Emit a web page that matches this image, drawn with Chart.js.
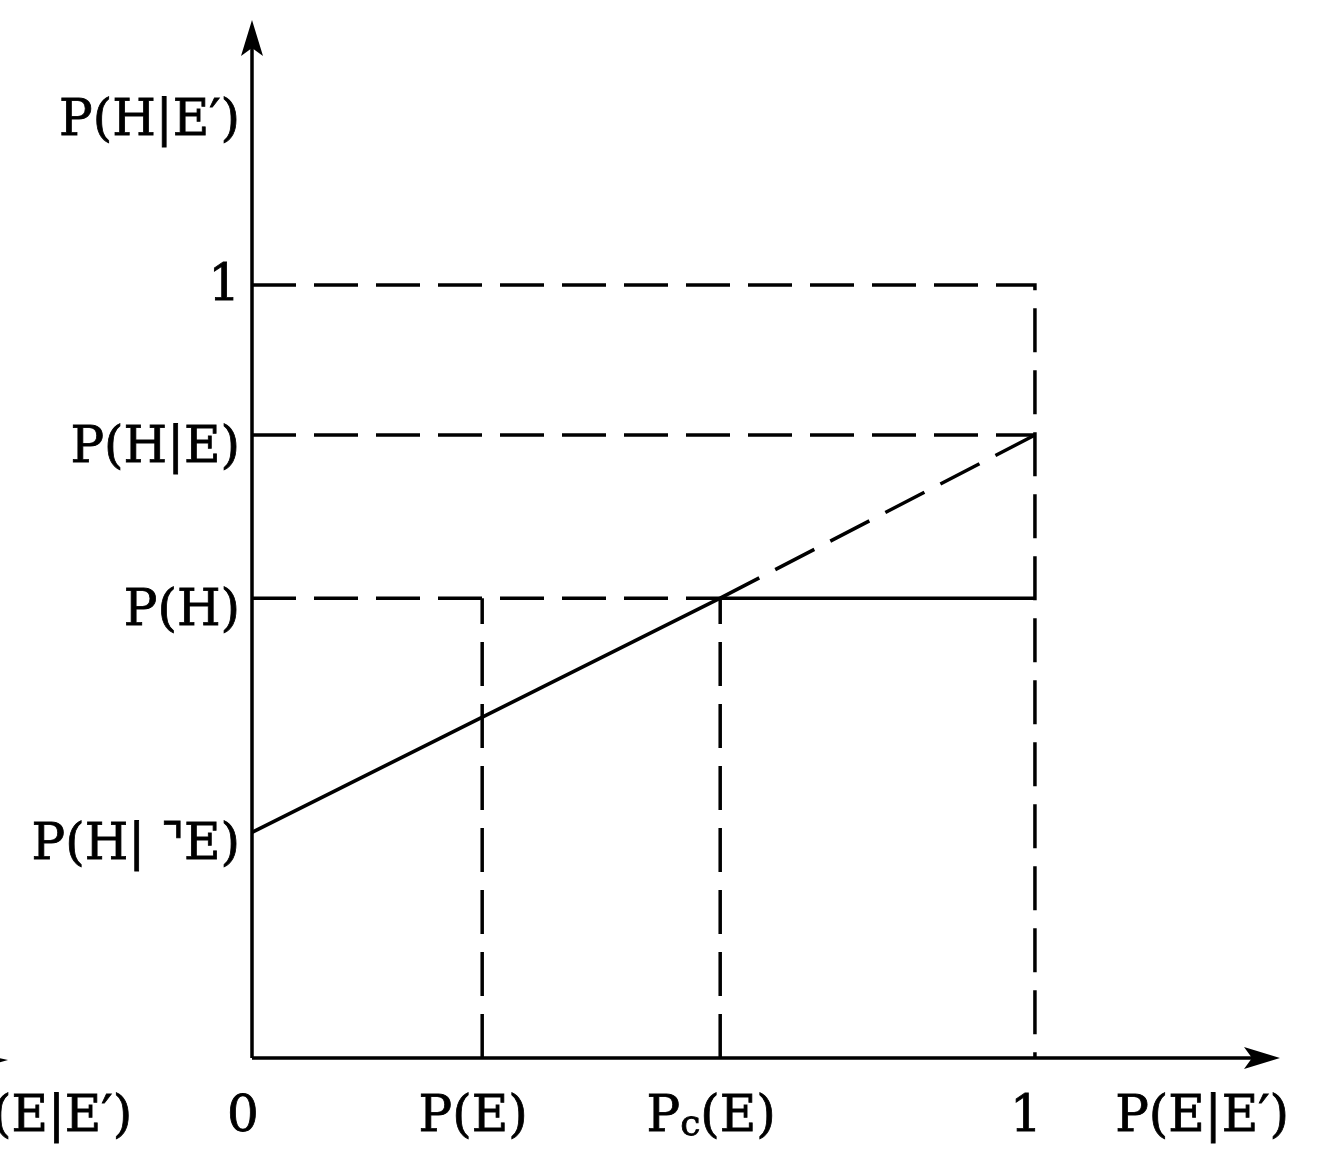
<!DOCTYPE html>
<html>
<head>
<meta charset="utf-8">
<script src="https://cdn.jsdelivr.net/npm/chart.js@4/dist/chart.umd.min.js"></script>
<style>
  html, body { margin: 0; padding: 0; background: #fff; }
  canvas { display: block; }
</style>
</head>
<body>
<canvas id="diagram" width="1340" height="1157"></canvas>
<script>
// Probability values (axis units 0..1)
const PE = 0.294;      // P(E)
const PcE = 0.598;     // Pc(E)
const PH = 0.595;      // P(H)
const PHE = 0.806;     // P(H|E)
const PHnotE = 0.292;  // P(H|¬E)

const xTickValues = [0, PE, PcE, 1, 1.225];
const xTickLabels = ["0", "P(E)", "P_c(E)", "1", "P(E|E\u2032)"];
const yTickValues = [1.203, 1, PHE, PH, PHnotE];
const yTickLabels = ["P(H|E\u2032)", "1", "P(H|E)", "P(H)", "P(H| \u231DE)"];

// solid lines
const solidSegments = [
  [[0, PHnotE], [PcE, PH]],
  [[PcE, PH], [1, PH]],
];
// dashed lines
const dashedSegments = [
  [[0, 1], [1, 1], [1, 0]],
  [[0, PHE], [1, PHE]],
  [[0, PH], [PcE, PH]],
  [[PE, 0], [PE, PH]],
  [[PcE, 0], [PcE, PH]],
  [[PcE, PH], [1, PHE]],
];

const xMax = 1.313;
const yMax = 1.343;
const FONT = "'DejaVu Serif', 'Liberation Serif', serif";

function seg(points, dashed) {
  return {
    data: points.map(([x, y]) => ({ x, y })),
    showLine: true,
    borderColor: "#000",
    borderWidth: 3.5,
    borderDash: dashed ? [44, 18] : [],
    pointRadius: 0,
    fill: false,
  };
}

// draws text, "_c" renders c as a subscript
function drawRich(ctx, text, x, y, align) {
  const parts = [];
  for (let i = 0; i < text.length; i++) {
    if (text[i] === "_" && i + 1 < text.length) {
      parts.push({ t: text[i + 1], sub: true });
      i++;
    } else {
      parts.push({ t: text[i], sub: false });
    }
  }
  const big = "50px " + FONT, small = "36px " + FONT;
  let w = 0;
  parts.forEach((p) => {
    ctx.font = p.sub ? small : big;
    p.w = ctx.measureText(p.t).width;
    w += p.w;
  });
  let cx = align === "right" ? x - w : align === "center" ? x - w / 2 : x;
  ctx.textAlign = "left";
  ctx.textBaseline = "middle";
  ctx.lineWidth = 0.8;
  parts.forEach((p) => {
    ctx.font = p.sub ? small : big;
    const ty = p.sub ? y + 8 : y;
    ctx.fillText(p.t, cx, ty);
    ctx.strokeText(p.t, cx, ty);
    cx += p.w;
  });
}

const axesPlugin = {
  id: "axes",
  afterDatasetsDraw(chart) {
    const { ctx, scales } = chart;
    const xs = scales.x, ys = scales.y;
    const x0 = xs.getPixelForValue(0), y0 = ys.getPixelForValue(0);
    const xEnd = xs.getPixelForValue(xMax), yEnd = ys.getPixelForValue(yMax);
    ctx.save();
    ctx.strokeStyle = "#000";
    ctx.fillStyle = "#000";
    ctx.lineWidth = 3.5;
    ctx.beginPath();
    ctx.moveTo(x0, y0);
    ctx.lineTo(xEnd - 10, y0);
    ctx.moveTo(x0, y0);
    ctx.lineTo(x0, yEnd + 10);
    ctx.stroke();
    // arrow heads
    ctx.beginPath();
    ctx.moveTo(xEnd, y0);
    ctx.lineTo(xEnd - 36, y0 - 11);
    ctx.lineTo(xEnd - 28, y0);
    ctx.lineTo(xEnd - 36, y0 + 11);
    ctx.closePath();
    ctx.fill();
    ctx.beginPath();
    ctx.moveTo(x0, yEnd);
    ctx.lineTo(x0 - 11, yEnd + 36);
    ctx.lineTo(x0, yEnd + 28);
    ctx.lineTo(x0 + 11, yEnd + 36);
    ctx.closePath();
    ctx.fill();

    // tick labels
    yTickValues.forEach((v, i) => {
      const dy = v > 1.1 ? -6 : (v === 1 ? 2 : 14);
      drawRich(ctx, yTickLabels[i], x0 - 12, ys.getPixelForValue(v) + dy, "right");
    });
    xTickValues.forEach((v, i) => {
      drawRich(ctx, xTickLabels[i], xs.getPixelForValue(v) - 9, y0 + 60, "center");
    });
    // cut-off label of the neighbouring figure at the left edge
    drawRich(ctx, "P(E|E\u2032)", xs.getPixelForValue(-0.153), y0 + 60, "right");
    ctx.beginPath();
    ctx.moveTo(-20, y0 - 4);
    ctx.lineTo(8, y0 + 2);
    ctx.lineTo(-20, y0 + 10);
    ctx.closePath();
    ctx.fill();
    ctx.restore();
  },
};

new Chart(document.getElementById("diagram"), {
  type: "scatter",
  data: {
    datasets: [
      ...solidSegments.map((s) => seg(s, false)),
      ...dashedSegments.map((s) => seg(s, true)),
    ],
  },
  options: {
    responsive: false,
    animation: false,
    clip: false,
    layout: { padding: { left: 252, right: 60, top: 20, bottom: 99 } },
    scales: {
      x: { type: "linear", min: 0, max: xMax, display: false },
      y: { type: "linear", min: 0, max: yMax, display: false },
    },
    plugins: { legend: { display: false }, tooltip: { enabled: false } },
  },
  plugins: [axesPlugin],
});
</script>
</body>
</html>
